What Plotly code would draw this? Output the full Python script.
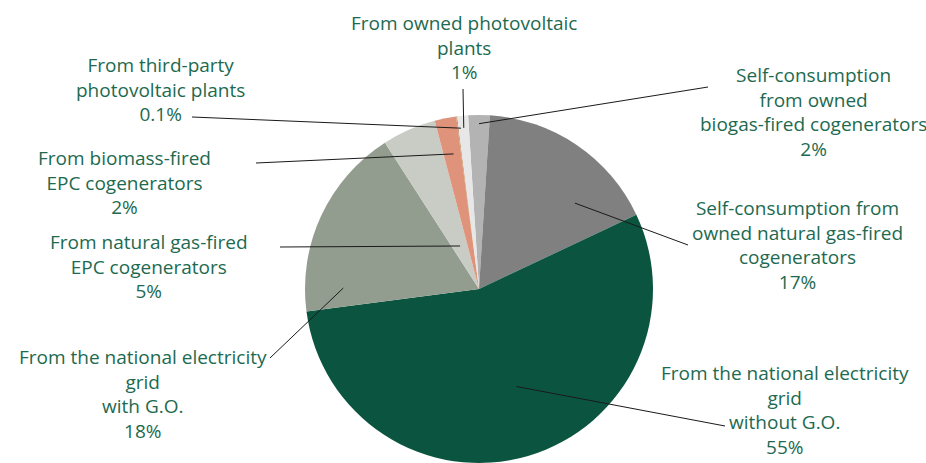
import math
import plotly.graph_objects as go

# ---------------- data ----------------
labels = [
    "Self-consumption<br>from owned<br>biogas-fired cogenerators",
    "Self-consumption from<br>owned natural gas-fired<br>cogenerators",
    "From the national electricity<br>grid<br>without G.O.",
    "From the national electricity<br>grid<br>with G.O.",
    "From natural gas-fired<br>EPC cogenerators",
    "From biomass-fired<br>EPC cogenerators",
    "From third-party<br>photovoltaic plants",
    "From owned photovoltaic<br>plants",
]
values = [2, 17, 55, 18, 5, 2, 0.1, 1]
colors = ["#b3b3b3", "#808080", "#0b5540", "#939d8f", "#c9ccc4", "#e0937b", "#c49a6c", "#e7e7e7"]

# ---------------- layout constants ----------------
W, H = 926, 463
CX, CY, R = 479, 289, 174          # pie centre / radius in pixels
ROTATION = -3.6
TEXT_COLOR = "#1d6a50"
FONT = "Open Sans"
FONT_SIZE = 19

# label block centres (px), leader-line outer end (px), anchor radius fraction, angle offset (deg)
label_pos = [(813, 112), (797, 245), (785, 410), (143, 394), (149, 266), (125, 182), (160, 89), (464, 47)]
line_out = [(708, 87), (688, 245), (725, 426), (270, 358), (280, 247), (256, 163), (192, 117), (463, 89)]
anchor_frac = [0.95, 0.74, 0.60, 0.78, 0.27, 0.79, 0.93, 0.93]
anchor_off = [0, 14, -4.6, -24.5, 0, 0.5, 1, 0]


def px(x):
    return x / W


def py(y):
    return 1 - y / H


fig = go.Figure()
fig.add_trace(go.Pie(
    values=values,
    labels=[l.replace("<br>", " ") for l in labels],
    sort=False,
    direction="clockwise",
    rotation=ROTATION,
    marker=dict(colors=colors, line=dict(width=0)),
    textinfo="none",
    hoverinfo="label+percent",
    showlegend=False,
    domain=dict(x=[px(CX - R), px(CX + R)], y=[py(CY + R), py(CY - R)]),
))

total = sum(values)
start = ROTATION
shapes = []
annotations = []
for i, v in enumerate(values):
    span = 360 * v / total
    mid = start + span / 2
    start += span
    a = math.radians(mid + anchor_off[i])
    ax = CX + anchor_frac[i] * R * math.sin(a)
    ay = CY - anchor_frac[i] * R * math.cos(a)
    ox, oy = line_out[i]
    shapes.append(dict(type="line", xref="paper", yref="paper",
                       x0=px(ox), y0=py(oy), x1=px(ax), y1=py(ay),
                       line=dict(color="#1a1a1a", width=1)))
    lx, ly = label_pos[i]
    annotations.append(dict(
        x=px(lx), y=py(ly), xref="paper", yref="paper",
        text=f"{labels[i]}<br>{v:g}%", showarrow=False,
        xanchor="center", yanchor="middle", align="center",
        font=dict(family=FONT, size=FONT_SIZE, color=TEXT_COLOR),
    ))

fig.update_layout(
    width=W, height=H,
    margin=dict(l=0, r=0, t=0, b=0),
    paper_bgcolor="white", plot_bgcolor="white",
    shapes=shapes, annotations=annotations,
)

fig.write_html("out.html")
